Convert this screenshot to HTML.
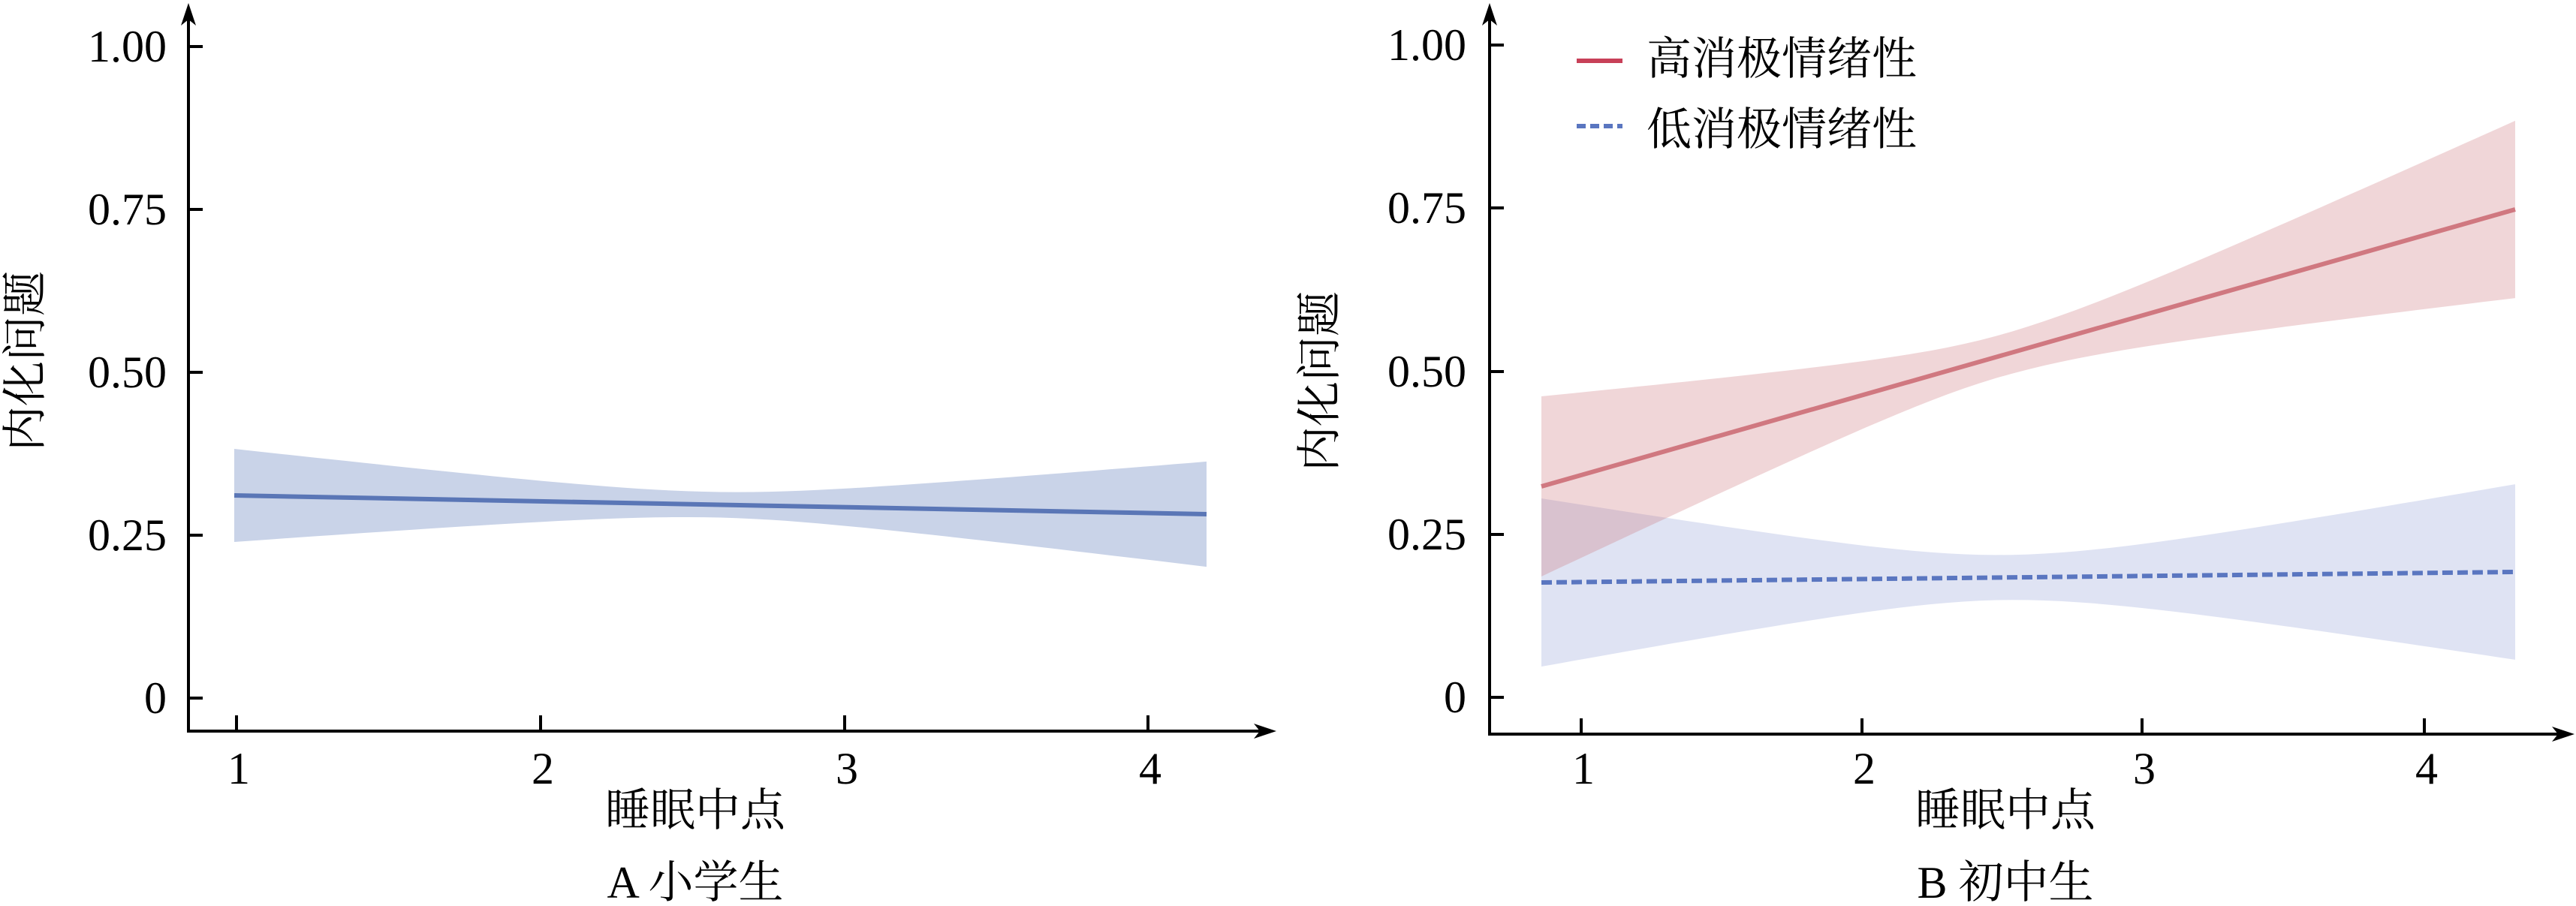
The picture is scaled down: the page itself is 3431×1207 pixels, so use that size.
<!DOCTYPE html>
<html><head><meta charset="utf-8">
<style>
html,body{margin:0;padding:0;background:#fff;}
svg{display:block;}
text{font-family:"Liberation Serif","Noto Serif CJK SC",serif;fill:#000;}
</style></head>
<body>
<svg id="s" width="3431" height="1207" viewBox="0 0 3431 1207" xmlns="http://www.w3.org/2000/svg">
<g id="bands"></g>
<line x1="312" y1="660" x2="1607" y2="685" stroke="#5a76b6" stroke-width="6"/>
<line x1="2053" y1="648" x2="3350" y2="279" stroke="#d07880" stroke-width="6"/>
<line x1="2053" y1="776" x2="3350" y2="762" stroke="#5a76c0" stroke-width="6" stroke-dasharray="14,6"/>

<g stroke="#000" stroke-width="4" fill="none">
<line x1="251" y1="974" x2="251" y2="20"/>
<line x1="249" y1="974" x2="1685" y2="974"/>
<line x1="251" y1="62" x2="270" y2="62"/>
<line x1="251" y1="279" x2="270" y2="279"/>
<line x1="251" y1="496" x2="270" y2="496"/>
<line x1="251" y1="713" x2="270" y2="713"/>
<line x1="251" y1="930" x2="270" y2="930"/>
<line x1="315" y1="974" x2="315" y2="953"/>
<line x1="720" y1="974" x2="720" y2="953"/>
<line x1="1125" y1="974" x2="1125" y2="953"/>
<line x1="1529" y1="974" x2="1529" y2="953"/>
</g>
<polygon points="251,4 241,34 251,26 261,34" fill="#000"/>
<polygon points="1700,974 1670,964 1678,974 1670,984" fill="#000"/>
<g font-size="60" text-anchor="end">
<text x="222" y="82">1.00</text>
<text x="222" y="299">0.75</text>
<text x="222" y="516">0.50</text>
<text x="222" y="733">0.25</text>
<text x="222" y="950">0</text>
</g>
<g font-size="60" text-anchor="middle">
<text x="318" y="1044">1</text>
<text x="723" y="1044">2</text>
<text x="1128" y="1044">3</text>
<text x="1532" y="1044">4</text>
</g>
<g font-size="60" text-anchor="middle">
<text x="926" y="1100">睡眠中点</text>
<text x="926" y="1196">A 小学生</text>
</g>
<text font-size="60" text-anchor="middle" transform="translate(54,481) rotate(-90)">内化问题</text>

<g stroke="#000" stroke-width="4" fill="none">
<line x1="1984" y1="978" x2="1984" y2="20"/>
<line x1="1982" y1="978" x2="3415" y2="978"/>
<line x1="1984" y1="60" x2="2003" y2="60"/>
<line x1="1984" y1="277" x2="2003" y2="277"/>
<line x1="1984" y1="495" x2="2003" y2="495"/>
<line x1="1984" y1="712" x2="2003" y2="712"/>
<line x1="1984" y1="929" x2="2003" y2="929"/>
<line x1="2106" y1="978" x2="2106" y2="957"/>
<line x1="2480" y1="978" x2="2480" y2="957"/>
<line x1="2853" y1="978" x2="2853" y2="957"/>
<line x1="3229" y1="978" x2="3229" y2="957"/>
</g>
<polygon points="1984,4 1974,34 1984,26 1994,34" fill="#000"/>
<polygon points="3429,978 3399,968 3407,978 3399,988" fill="#000"/>
<g font-size="60" text-anchor="end">
<text x="1953" y="80">1.00</text>
<text x="1953" y="297">0.75</text>
<text x="1953" y="515">0.50</text>
<text x="1953" y="732">0.25</text>
<text x="1953" y="949">0</text>
</g>
<g font-size="60" text-anchor="middle">
<text x="2109" y="1044">1</text>
<text x="2483" y="1044">2</text>
<text x="2856" y="1044">3</text>
<text x="3232" y="1044">4</text>
<text x="2671" y="1100">睡眠中点</text>
<text x="2671" y="1196">B 初中生</text>
</g>
<text font-size="60" text-anchor="middle" transform="translate(1778,508) rotate(-90)">内化问题</text>
<line x1="2100" y1="81" x2="2161" y2="81" stroke="#c84058" stroke-width="6"/>
<line x1="2100" y1="168" x2="2161" y2="168" stroke="#5a76c0" stroke-width="6" stroke-dasharray="12,6"/>
<text x="2193" y="99" font-size="60">高消极情绪性</text>
<text x="2193" y="193" font-size="60">低消极情绪性</text>
</svg>
<script>
function band(x0,y0,x1,y1,xm,hm,k0,k1,fill){
  var top=[],bot=[];
  for(var i=0;i<=60;i++){
    var x=x0+(x1-x0)*i/60;
    var c=y0+(y1-y0)*(x-x0)/(x1-x0);
    var k=x<xm?k0:k1;
    var h=Math.sqrt(hm*hm+k*(x-xm)*(x-xm));
    top.push(x.toFixed(1)+","+(c-h).toFixed(1));
    bot.unshift(x.toFixed(1)+","+(c+h).toFixed(1));
  }
  var p=document.createElementNS("http://www.w3.org/2000/svg","polygon");
  p.setAttribute("points",top.concat(bot).join(" "));
  p.setAttribute("fill",fill);
  document.getElementById("bands").appendChild(p);
}
band(312,660,1607,685,950,17,0.00873,0.0107,"#c9d3e8");
band(2053,776,3350,762,2671,30,0.0305,0.0277,"rgba(130,145,210,0.26)");
band(2053,648,3350,279,2667,28,0.0361,0.0282,"rgba(205,120,125,0.30)");
</script>
</body></html>
